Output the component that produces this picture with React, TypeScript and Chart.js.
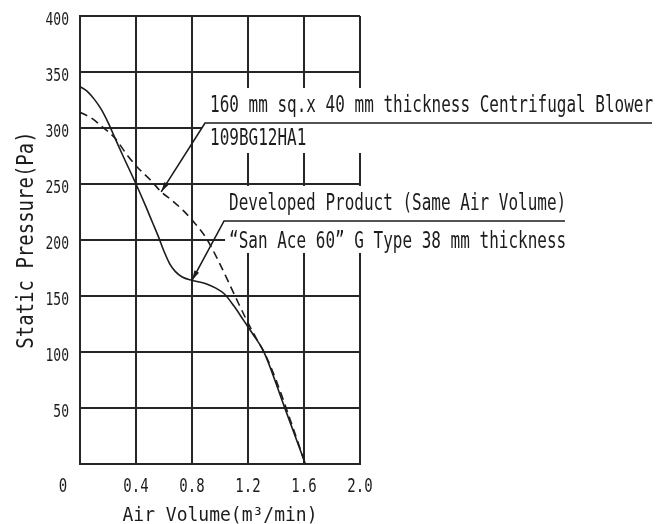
import React, { useEffect, useRef } from 'react';
import { Chart, registerables } from 'chart.js';

Chart.register(...registerables);

// ---- data ----
const developedAirVolume = [0, 0.05, 0.1, 0.15, 0.2, 0.25, 0.3, 0.4, 0.47, 0.52, 0.56, 0.6, 0.64, 0.68, 0.73, 0.8, 0.9, 0.97, 1.03, 1.1, 1.17, 1.24, 1.31, 1.46, 1.61];
const developedPressure = [337, 333, 326, 317, 305, 291, 277, 250, 230, 215, 203, 190, 179, 172, 167, 164, 161, 157, 152, 141, 128, 115, 101, 51, 0];

const blowerAirVolume = [0, 0.08, 0.16, 0.25, 0.33, 0.41, 0.5, 0.58, 0.66, 0.74, 0.82, 0.9, 0.99, 1.07, 1.13, 1.2, 1.26, 1.33, 1.4, 1.5, 1.61];
const blowerPressure = [314, 309, 301, 291, 277, 265, 254, 243, 235, 226, 215, 202, 181, 160, 144, 126, 112, 96, 75, 40, 0];

const xTickValues = [0.4, 0.8, 1.2, 1.6, 2.0];
const xTickLabels = ['0.4', '0.8', '1.2', '1.6', '2.0'];
const yTickValues = [50, 100, 150, 200, 250, 300, 350, 400];
const yTickLabels = ['50', '100', '150', '200', '250', '300', '350', '400'];
const originLabel = '0';

const xTitle = 'Air Volume(m³/min)';
const yTitle = 'Static Pressure(Pa)';

const blowerLabelLine1 = '160 mm sq.x 40 mm thickness Centrifugal Blower';
const blowerLabelLine2 = '109BG12HA1';
const developedLabelLine1 = 'Developed Product (Same Air Volume)';
const developedLabelLine2 = '“San Ace 60” G Type 38 mm thickness';

// annotation anchors in data units
const blowerCallout = { tip: [0.58, 243], elbow: [0.893, 304.5], end: 4.086 };
const developedCallout = { tip: [0.8, 164], elbow: [1.029, 217], end: 3.464 };

const INK = '#1c1c1c';
const GRID = '#262626';
const MONO = '"DejaVu Sans Mono", "Liberation Mono", monospace';

function drawText(
  ctx: CanvasRenderingContext2D,
  text: string,
  x: number,
  y: number,
  size: number,
  sy: number,
  align: CanvasTextAlign,
  rotate = 0
) {
  ctx.save();
  ctx.font = `${size}px ${MONO}`;
  ctx.fillStyle = INK;
  ctx.textAlign = align;
  ctx.textBaseline = 'alphabetic';
  ctx.translate(x, y);
  if (rotate) ctx.rotate(rotate);
  ctx.scale(1, sy);
  ctx.fillText(text, 0, 0);
  ctx.restore();
}

const calloutBoxes = {
  id: 'calloutBoxes',
  beforeDatasetsDraw(chart: any) {
    const { ctx, scales } = chart;
    const xs = scales.x;
    const ys = scales.y;
    ctx.save();
    ctx.fillStyle = '#ffffff';
    {
      const ex = xs.getPixelForValue(blowerCallout.elbow[0]);
      const ey = ys.getPixelForValue(blowerCallout.elbow[1]);
      ctx.fillRect(ex - 3, ey - 35, chart.width - (ex - 3), 65);
    }
    {
      const ex = xs.getPixelForValue(developedCallout.elbow[0]);
      const ey = ys.getPixelForValue(developedCallout.elbow[1]);
      const endX = xs.getPixelForValue(developedCallout.end);
      ctx.fillRect(ex + 1, ey - 35, endX + 10 - (ex + 1), 67);
    }
    ctx.restore();
  },
};

function drawCallout(chart: any, c: { tip: number[]; elbow: number[]; end: number }, l1: string, l2: string, off2: number) {
  const { ctx, scales } = chart;
  const xs = scales.x;
  const ys = scales.y;
  const tx = xs.getPixelForValue(c.tip[0]);
  const ty = ys.getPixelForValue(c.tip[1]);
  const ex = xs.getPixelForValue(c.elbow[0]);
  const ey = ys.getPixelForValue(c.elbow[1]);
  const endX = xs.getPixelForValue(c.end);
  ctx.save();
  ctx.strokeStyle = INK;
  ctx.fillStyle = INK;
  ctx.lineWidth = 1.6;
  ctx.beginPath();
  ctx.moveTo(endX, ey);
  ctx.lineTo(ex, ey);
  ctx.lineTo(tx, ty);
  ctx.stroke();
  const ang = Math.atan2(ty - ey, tx - ex);
  const len = 10;
  const hw = 2.6;
  ctx.beginPath();
  ctx.moveTo(tx, ty);
  ctx.lineTo(tx - len * Math.cos(ang) + hw * Math.sin(ang), ty - len * Math.sin(ang) - hw * Math.cos(ang));
  ctx.lineTo(tx - len * Math.cos(ang) - hw * Math.sin(ang), ty - len * Math.sin(ang) + hw * Math.cos(ang));
  ctx.closePath();
  ctx.fill();
  ctx.restore();
  drawText(ctx, l1, ex + 5, ey - 11, 16, 1.45, 'left');
  drawText(ctx, l2, ex + 5, ey + off2, 16, 1.45, 'left');
}

const textLayer = {
  id: 'textLayer',
  afterDraw(chart: any) {
    const { ctx, scales, chartArea } = chart;
    const xs = scales.x;
    const ys = scales.y;
    yTickValues.forEach((v, i) => {
      drawText(ctx, yTickLabels[i], chartArea.left - 11, ys.getPixelForValue(v) + 9, 13, 1.3, 'right');
    });
    xTickValues.forEach((v, i) => {
      drawText(ctx, xTickLabels[i], xs.getPixelForValue(v), chartArea.bottom + 28, 14, 1.34, 'center');
    });
    drawText(ctx, originLabel, chartArea.left - 17, chartArea.bottom + 28, 14, 1.34, 'center');
    drawText(ctx, xTitle, (chartArea.left + chartArea.right) / 2, chartArea.bottom + 57, 18, 1.07, 'center');
    drawText(ctx, yTitle, 33, (chartArea.top + chartArea.bottom) / 2, 19, 1.2, 'center', -Math.PI / 2);
    drawCallout(chart, blowerCallout, blowerLabelLine1, blowerLabelLine2, 22);
    drawCallout(chart, developedCallout, developedLabelLine1, developedLabelLine2, 27);
  },
};

export default function App() {
  const canvasRef = useRef<HTMLCanvasElement | null>(null);

  useEffect(() => {
    document.body.style.margin = '0';
    const canvas = canvasRef.current;
    if (!canvas) return;
    const chart = new Chart(canvas, {
      type: 'line',
      data: {
        datasets: [
          {
            label: 'Developed Product',
            data: developedAirVolume.map((x, i) => ({ x, y: developedPressure[i] })),
            borderColor: INK,
            borderWidth: 1.6,
            pointRadius: 0,
            fill: false,
            cubicInterpolationMode: 'monotone',
          },
          {
            label: '109BG12HA1',
            data: blowerAirVolume.map((x, i) => ({ x, y: blowerPressure[i] })),
            borderColor: INK,
            borderWidth: 1.6,
            borderDash: [8, 5],
            pointRadius: 0,
            fill: false,
            cubicInterpolationMode: 'monotone',
          },
        ],
      },
      options: {
        animation: false,
        responsive: false,
        events: [],
        layout: { padding: { left: 80, right: 303, top: 16, bottom: 60 } },
        plugins: { legend: { display: false }, tooltip: { enabled: false } },
        scales: {
          x: {
            type: 'linear',
            min: 0,
            max: 2,
            ticks: { stepSize: 0.4, display: false },
            grid: { color: GRID, lineWidth: 2, drawTicks: false },
            border: { display: true, color: GRID, width: 2 },
          },
          y: {
            type: 'linear',
            min: 0,
            max: 400,
            ticks: { stepSize: 50, display: false },
            grid: { color: GRID, lineWidth: 2, drawTicks: false },
            border: { display: true, color: GRID, width: 2 },
          },
        },
      },
      plugins: [calloutBoxes, textLayer],
    });
    return () => chart.destroy();
  }, []);

  return (
    <div style={{ width: 663, height: 524 }}>
      <canvas ref={canvasRef} width={663} height={524} />
    </div>
  );
}
